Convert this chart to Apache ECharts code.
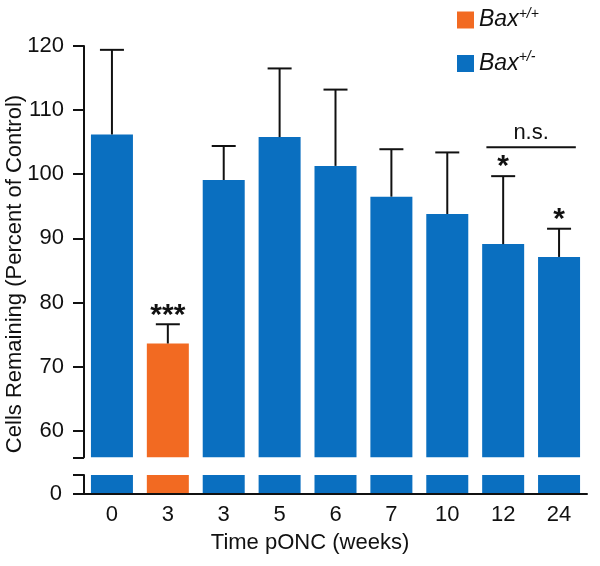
<!DOCTYPE html>
<html>
<head>
<meta charset="utf-8">
<script src="https://cdn.jsdelivr.net/npm/echarts@6/dist/echarts.min.js"></script>
<style>
  html, body { margin: 0; padding: 0; background: #fff; }
  #chart { width: 600px; height: 566px; }
</style>
</head>
<body>
<div id="chart"></div>
<script>
// chart data
const weeks = ['0', '3', '3', '5', '6', '7', '10', '12', '24'];
const genotype = ['het', 'wt', 'het', 'het', 'het', 'het', 'het', 'het', 'het'];
const means = [106.2, 73.6, 99.1, 105.8, 101.3, 96.5, 93.8, 89.1, 87.1];
const upper = [119.4, 76.6, 104.4, 116.5, 113.2, 103.9, 103.4, 99.7, 91.5];
const stars = ['', '***', '', '', '', '', '', '*', '*'];
const yTicks = [60, 70, 80, 90, 100, 110, 120];
const nsBracket = [7, 8, 104.2]; // from 12 to 24 weeks

const BLUE = '#0a6fc0';
const ORANGE = '#f26a22';
const FONT = 'Liberation Sans, Arial, sans-serif';

const chart = echarts.init(document.getElementById('chart'));

const wtData = means.map((v, i) => genotype[i] === 'wt' ? v : '-');
const hetData = means.map((v, i) => genotype[i] === 'het' ? v : '-');
const errData = means.map((v, i) => [i, v, upper[i]]);

const upperMin = 55.85;

function barSeries(name, data, color, idx) {
    return {
        name: name,
        type: 'bar',
        xAxisIndex: idx,
        yAxisIndex: idx,
        data: data,
        barWidth: 42,
        barGap: '-100%',
        itemStyle: { color: color },
        clip: true,
        silent: true
    };
}

function renderErr(params, api) {
    const x = api.value(0);
    const top = api.coord([x, api.value(2)]);
    const base = api.coord([x, api.value(1)]);
    const label = stars[params.dataIndex];
    const kids = [
        { type: 'line', shape: { x1: top[0], y1: base[1], x2: top[0], y2: top[1] },
          style: { stroke: '#111', lineWidth: 2 } },
        { type: 'line', shape: { x1: top[0] - 12, y1: top[1], x2: top[0] + 12, y2: top[1] },
          style: { stroke: '#111', lineWidth: 2 } }
    ];
    if (label) {
        kids.push({ type: 'text', x: top[0], y: top[1] + 6,
            style: { text: label, fill: '#111', font: 'bold 30px ' + FONT,
                     textAlign: 'center', textVerticalAlign: 'bottom' } });
    }
    return { type: 'group', children: kids };
}

function renderNs(params, api) {
    const a = api.coord([api.value(0), api.value(2)]);
    const b = api.coord([api.value(1), api.value(2)]);
    const w = api.size([1, 0])[0];
    const x1 = a[0] - w * 0.3, x2 = b[0] + w * 0.3;
    return { type: 'group', children: [
        { type: 'line', shape: { x1: x1, y1: a[1], x2: x2, y2: a[1] },
          style: { stroke: '#111', lineWidth: 2 } },
        { type: 'text', x: (x1 + x2) / 2, y: a[1] - 3,
          style: { text: 'n.s.', fill: '#111', font: '22px ' + FONT,
                   textAlign: 'center', textVerticalAlign: 'bottom' } }
    ] };
}

const axisLine = { show: true, lineStyle: { color: '#111', width: 2 } };

chart.setOption({
    animation: false,
    textStyle: { fontFamily: FONT },
    grid: [
        { left: 84, right: 13, top: 46, bottom: 108.7 },
        { left: 84, right: 13, top: 475, bottom: 72 }
    ],
    legend: {
        data: ['Bax+/+', 'Bax+/-'],
        orient: 'vertical',
        left: 452,
        top: 2,
        itemWidth: 17,
        itemHeight: 17,
        itemGap: 19,
        icon: 'rect',
        formatter: function (name) {
            return '{i|Bax}{s|' + name.slice(3) + '}';
        },
        textStyle: {
            rich: {
                i: { fontSize: 23, fontStyle: 'italic', color: '#111', fontFamily: FONT },
                s: { fontSize: 14, fontStyle: 'italic', color: '#111', fontFamily: FONT,
                     verticalAlign: 'top', padding: [0, 0, 12, 0] }
            }
        }
    },
    xAxis: [
        { type: 'category', gridIndex: 0, data: weeks, show: false },
        { type: 'category', gridIndex: 1, data: weeks, z: 10,
          axisLine: axisLine, axisTick: { show: false },
          axisLabel: { color: '#111', fontSize: 22, margin: 10 } }
    ],
    yAxis: [
        { type: 'value', gridIndex: 0, min: upperMin, max: 120,
          splitLine: { show: false }, axisLine: axisLine,
          axisTick: { show: true, length: 11, lineStyle: { color: '#111', width: 2 },
                      customValues: [upperMin].concat(yTicks) },
          axisLabel: { color: '#111', fontSize: 22, margin: 20, customValues: yTicks } },
        { type: 'value', gridIndex: 1, min: 0, max: 5,
          splitLine: { show: false }, axisLine: axisLine,
          axisTick: { show: true, length: 11, lineStyle: { color: '#111', width: 2 },
                      customValues: [0, 5] },
          axisLabel: { color: '#111', fontSize: 22, margin: 22, customValues: [0] } }
    ],
    graphic: [
        { type: 'text', x: 15, y: 274, rotation: Math.PI / 2,
          style: { text: 'Cells Remaining (Percent of Control)', fill: '#111',
                   font: '22px ' + FONT, textAlign: 'center', textVerticalAlign: 'middle' } },
        { type: 'text', x: 310, y: 543,
          style: { text: 'Time pONC (weeks)', fill: '#111',
                   font: '22px ' + FONT, textAlign: 'center', textVerticalAlign: 'middle' } }
    ],
    series: [
        barSeries('Bax+/+', wtData, ORANGE, 0),
        barSeries('Bax+/-', hetData, BLUE, 0),
        barSeries('Bax+/+', wtData, ORANGE, 1),
        barSeries('Bax+/-', hetData, BLUE, 1),
        { type: 'custom', xAxisIndex: 0, yAxisIndex: 0, data: errData,
          renderItem: renderErr, clip: false, silent: true, z: 3 },
        { type: 'custom', xAxisIndex: 0, yAxisIndex: 0, data: [nsBracket],
          renderItem: renderNs, clip: false, silent: true, z: 3 }
    ]
});
</script>
</body>
</html>
